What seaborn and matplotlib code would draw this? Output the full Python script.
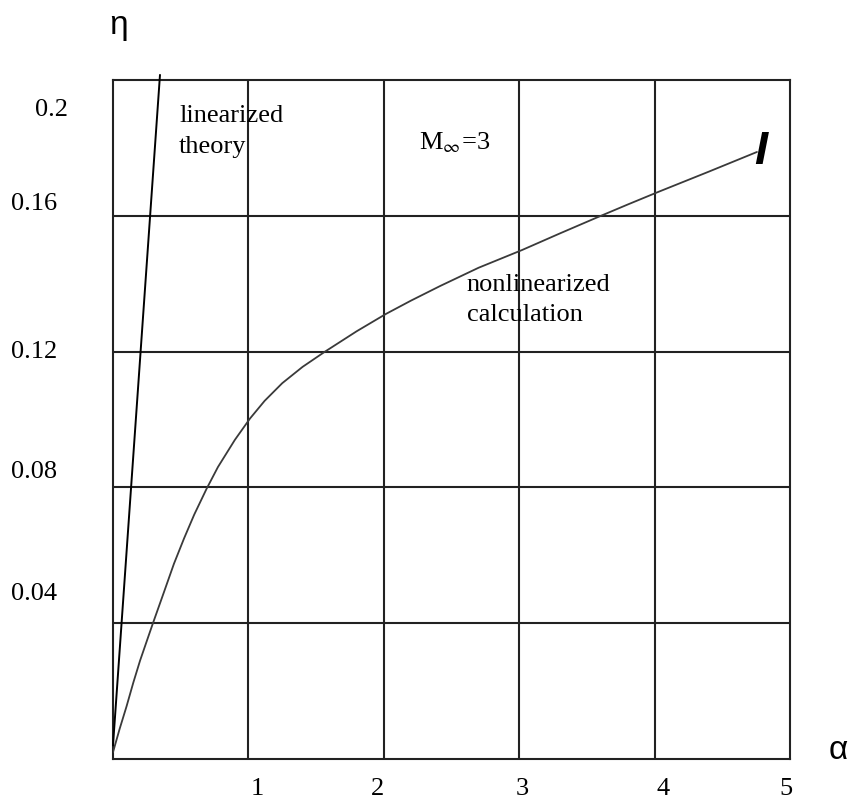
import matplotlib
matplotlib.use("Agg")
import matplotlib.pyplot as plt
import matplotlib.transforms as mtransforms
import pandas as pd
import seaborn as sns

# Efficiency eta versus angle of attack alpha at M_inf = 3
alpha_nonlin = [0.0, 0.05, 0.1, 0.15, 0.2, 0.25, 0.295, 0.375, 0.45, 0.525,
                0.6, 0.69, 0.775, 0.9, 1.012, 1.12, 1.25, 1.4, 1.566, 1.8,
                2.016, 2.2, 2.415, 2.7, 3.02, 3.3, 3.58, 3.8, 4.025, 4.4, 4.756]
eta_nonlin = [0.002, 0.009, 0.0155, 0.0225, 0.029, 0.0348, 0.04, 0.049, 0.0575,
              0.065, 0.072, 0.0795, 0.086, 0.094, 0.1003, 0.1055, 0.1107,
              0.1155, 0.12, 0.126, 0.1311, 0.135, 0.1393, 0.1447, 0.1499,
              0.1548, 0.1596, 0.1633, 0.167, 0.173, 0.1788]

alpha_lin = [0.0, 0.347]
eta_lin = [0.004, 0.2015]

x_grid = [1, 2, 3, 4]
y_grid = [0.04, 0.08, 0.12, 0.16]

xtick_labels = ["1", "2", "3", "4", "5"]
xtick_pos = [1.063, 1.957, 3.02, 4.06, 4.97]
ytick_labels = ["0.2", "0.16", "0.12", "0.08", "0.04"]
ytick_pos = [0.1893, 0.1617, 0.1181, 0.0827, 0.0468]
ytick_left = [-0.115, -0.1507, -0.1507, -0.1507, -0.1507]

sns.set_style("white")
plt.rcParams["font.family"] = ["Liberation Serif", "DejaVu Serif"]
plt.rcParams["mathtext.fontset"] = "stix"
plt.rcParams["text.color"] = "black"

fig = plt.figure(figsize=(8.55, 8.01), dpi=100)
ax = fig.add_axes([113 / 855, 42 / 801, 677 / 855, 679 / 801])

nonlin = pd.DataFrame({"alpha": alpha_nonlin, "eta": eta_nonlin})
lin = pd.DataFrame({"alpha": alpha_lin, "eta": eta_lin})

sns.lineplot(data=nonlin, x="alpha", y="eta", ax=ax, color="#3a3a3a",
             linewidth=1.3, zorder=3)
sns.lineplot(data=lin, x="alpha", y="eta", ax=ax, color="black",
             linewidth=1.4, clip_on=False, zorder=3)

ax.set_xlim(0, 5)
ax.set_ylim(0, 0.2)
ax.set_xlabel("")
ax.set_ylabel("")

# grid lines on minor ticks, no visible tick marks
ax.set_xticks(x_grid, minor=True)
ax.set_yticks(y_grid, minor=True)
ax.set_xticks([])
ax.set_yticks([])
ax.tick_params(which="both", length=0)
ax.grid(which="minor", color="#222222", linewidth=1.5)
for sp in ax.spines.values():
    sp.set_visible(True)
    sp.set_color("#222222")
    sp.set_linewidth(1.5)

tick_fs = 19
xt = mtransforms.blended_transform_factory(ax.transData, ax.transAxes)
for lab, pos in zip(xtick_labels, xtick_pos):
    ax.text(pos, -0.053, lab, transform=xt, ha="center", va="baseline",
            fontsize=tick_fs)
yt = mtransforms.blended_transform_factory(ax.transAxes, ax.transData)
for lab, pos, left in zip(ytick_labels, ytick_pos, ytick_left):
    ax.text(left, pos, lab, transform=yt, ha="left", va="baseline",
            fontsize=tick_fs)

# annotations
ax.text(0.487, 0.1876, "linearized", fontsize=19, ha="left", va="baseline")
ax.text(0.487, 0.1785, "theory", fontsize=19, ha="left", va="baseline")
ax.text(2.26, 0.1797, r"M$_{\infty}$=3", fontsize=19, ha="left", va="baseline")
ax.text(2.614, 0.1378, "nonlinearized", fontsize=19, ha="left", va="baseline")
ax.text(2.614, 0.1290, "calculation", fontsize=19, ha="left", va="baseline")
ax.text(4.786, 0.1753, "I", fontsize=34, ha="center", va="baseline",
        family="Liberation Sans", fontweight="bold", style="italic")

# axis symbols
ax.text(0.0089, 1.081, "\u03b7", transform=ax.transAxes, fontsize=24,
        ha="center", va="center", family="Liberation Sans")
ax.text(1.071, 0.013, "\u03b1", transform=ax.transAxes, fontsize=24,
        ha="center", va="center", family="Liberation Sans")

fig.savefig("out.png", dpi=100)
